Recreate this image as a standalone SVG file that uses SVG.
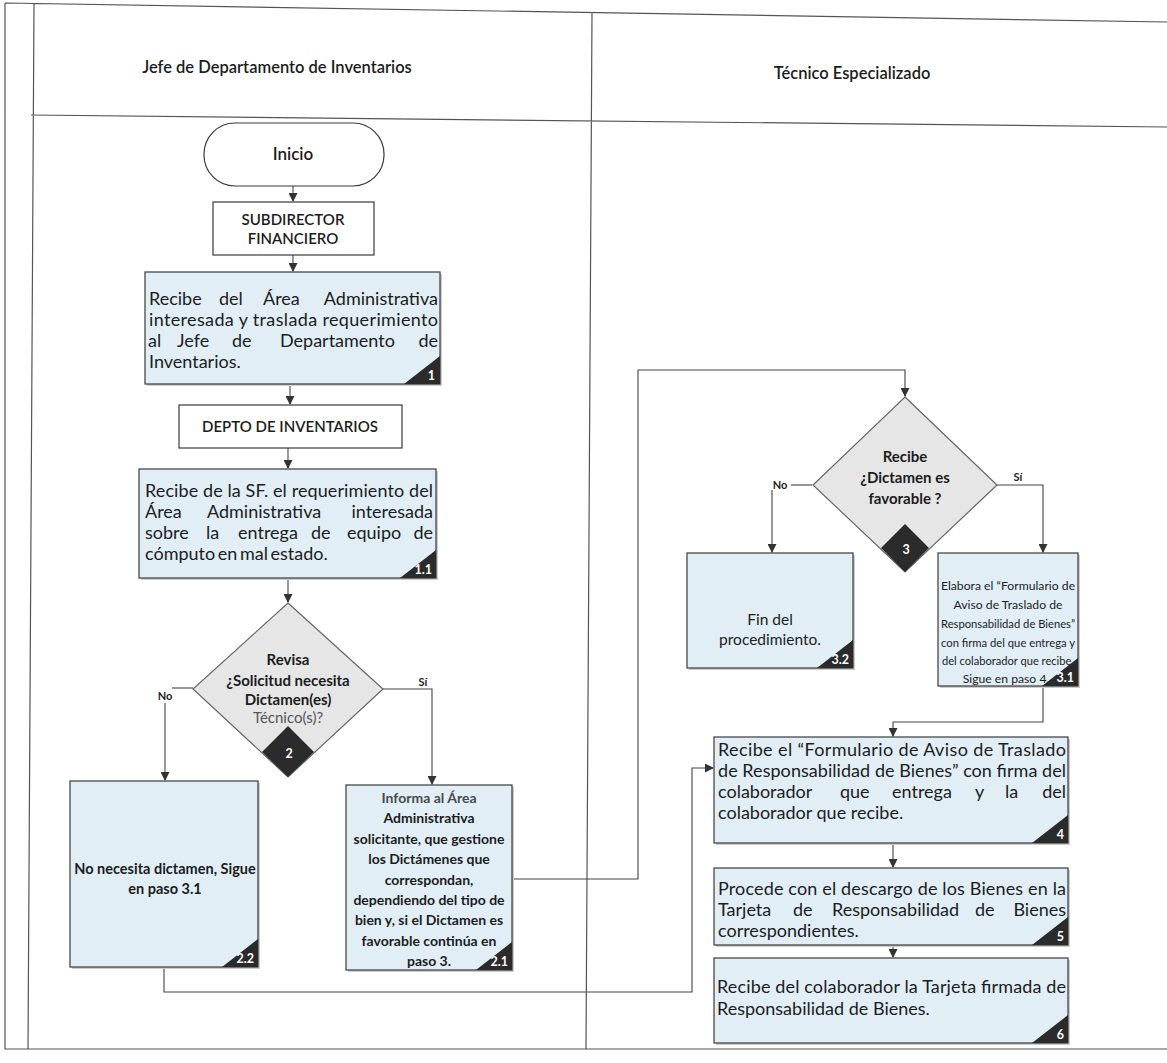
<svg xmlns="http://www.w3.org/2000/svg" width="1167" height="1063" viewBox="0 0 1167 1063">
  <style>
    .frame { fill: none; stroke: #555; stroke-width: 1.2; }
    .box { fill: #e1eef6; stroke: #3a3a3a; stroke-width: 1.2; }
    .plain { fill: #ffffff; stroke: #3a3a3a; stroke-width: 1.2; }
    .shadow { fill: #cdcdcd; }
    .dia { fill: #e6e6e6; stroke: #666; stroke-width: 1.2; }
    .badge { fill: #2b2b2b; }
    .num { font-family: Lato, "Noto Sans", sans-serif; font-size: 12.5px; font-weight: 700; fill: #ffffff; text-anchor: end; }
    .conn { fill: none; stroke: #444; stroke-width: 1.1; }
    .t { font-family: Lato, "Noto Sans", sans-serif; font-size: 18px; fill: #1c1c1c; }
    .tc { font-family: Lato, "Noto Sans", sans-serif; fill: #1c1c1c; text-anchor: middle; }
    .hdr { font-family: Lato, "Noto Sans", sans-serif; font-size: 16.5px; font-weight: 600; fill: #1c1c1c; text-anchor: middle; }
    .cap { font-size: 15px; font-weight: 600; }
    .bold { font-weight: 700; }
    .lbl { font-family: Lato, "Noto Sans", sans-serif; font-size: 11px; font-weight: 700; fill: #222; text-anchor: middle; }
    .e { text-anchor: end; }
  </style>
  <defs>
    <marker id="arr" markerUnits="userSpaceOnUse" markerWidth="9" markerHeight="9" refX="8" refY="4.5" orient="auto">
      <path d="M0,0 L9,4.5 L0,9 z" fill="#333"/>
    </marker>
  </defs>

  <!-- swimlane frame (the sheet sits slightly skewed) -->
  <g id="lanes">
    <path class="frame" d="M5,3 L1167,22 M5,3 V1049 H1167 M34,3 L28,1049 M31,115 L1167,127 M592,13 L586,1049"/>
    <text class="hdr" x="277" y="73">Jefe de Departamento de Inventarios</text>
    <text class="hdr" x="852" y="79">Técnico Especializado</text>
  </g>

  <!-- connectors -->
  <g id="connectors">
    <path class="conn" d="M293,186 V201" marker-end="url(#arr)"/>
    <path class="conn" d="M293,255 V271" marker-end="url(#arr)"/>
    <path class="conn" d="M290,384 V404" marker-end="url(#arr)"/>
    <path class="conn" d="M288,448 V468" marker-end="url(#arr)"/>
    <path class="conn" d="M288,578 V602" marker-end="url(#arr)"/>
    <path class="conn" d="M193,688 H172"/>
    <path class="conn" d="M165,703 V780" marker-end="url(#arr)"/>
    <path class="conn" d="M383,689 H432 V784" marker-end="url(#arr)"/>
    <path class="conn" d="M512,879 H638 V370 H905 V396" marker-end="url(#arr)"/>
    <path class="conn" d="M164,967 V992 H692 V768 H713" marker-end="url(#arr)"/>
    <path class="conn" d="M812,485 H791"/>
    <path class="conn" d="M772,490 V552" marker-end="url(#arr)"/>
    <path class="conn" d="M997,485 H1043 V552" marker-end="url(#arr)"/>
    <path class="conn" d="M1043,686 V722 H893 V736" marker-end="url(#arr)"/>
    <path class="conn" d="M893,843 V867" marker-end="url(#arr)"/>
    <path class="conn" d="M893,945 V957" marker-end="url(#arr)"/>
    <text class="lbl" x="165" y="700">No</text>
    <text class="lbl" x="423" y="686">Sí</text>
    <text class="lbl" x="780" y="489">No</text>
    <text class="lbl" x="1018" y="481">Sí</text>
  </g>

  <g id="inicio">
    <rect class="plain" x="204" y="123" width="180" height="63" rx="31"/>
    <text class="tc cap" x="293" y="160" style="font-size:17px">Inicio</text>
  </g>

  <g id="subdirector">
    <rect class="plain" x="213" y="202" width="161" height="53"/>
    <text class="tc cap" x="293" y="225">SUBDIRECTOR</text>
    <text class="tc cap" x="293" y="244">FINANCIERO</text>
  </g>

  <g id="paso-1">
    <rect class="shadow" x="147" y="274" width="295" height="112"/>
    <rect class="box" x="145" y="272" width="295" height="112"/>
    <text class="t" y="305"><tspan x="149">Recibe</tspan><tspan x="219">del</tspan><tspan x="263">Área</tspan><tspan x="438" class="e">Administrativa</tspan></text>
    <text class="t" y="326" x="149" textLength="289" lengthAdjust="spacing">interesada y traslada requerimiento</text>
    <text class="t" y="347"><tspan x="148">al</tspan><tspan x="177">Jefe</tspan><tspan x="232">de</tspan><tspan x="280">Departamento</tspan><tspan x="438" class="e">de</tspan></text>
    <text class="t" y="368" x="149">Inventarios.</text>
    <path class="badge" d="M440,356 V384 H404 Z"/>
    <text class="num" x="435" y="380">1</text>
  </g>

  <g id="depto">
    <rect class="plain" x="179" y="405" width="223" height="43"/>
    <text class="tc cap" x="290" y="432">DEPTO DE INVENTARIOS</text>
  </g>

  <g id="paso-1-1">
    <rect class="shadow" x="141" y="471" width="297" height="109"/>
    <rect class="box" x="139" y="469" width="297" height="109"/>
    <text class="t" y="497" x="145" textLength="288" lengthAdjust="spacing">Recibe de la SF. el requerimiento del</text>
    <text class="t" y="518"><tspan x="145">Área</tspan><tspan x="207">Administrativa</tspan><tspan x="433" class="e">interesada</tspan></text>
    <text class="t" y="539"><tspan x="145">sobre</tspan><tspan x="206">la</tspan><tspan x="238">entrega</tspan><tspan x="311">de</tspan><tspan x="347">equipo</tspan><tspan x="433" class="e">de</tspan></text>
    <text class="t" y="560" x="145" style="word-spacing:-2px">cómputo en mal estado.</text>
    <path class="badge" d="M436,550 V578 H400 Z"/>
    <text class="num" x="432" y="574">1.1</text>
  </g>

  <g id="decision-2">
    <path class="dia" d="M288,603 L383,689 L288,777 L193,689 Z"/>
    <path class="badge" d="M288,726 L314,752 L288,777 L262,752 Z"/>
    <text class="tc bold" x="288" y="665" style="font-size:15px">Revisa</text>
    <text class="tc bold" x="288" y="686" style="font-size:15px">¿Solicitud necesita</text>
    <text class="tc bold" x="288" y="705" style="font-size:15px">Dictamen(es)</text>
    <text class="tc" x="288" y="723" style="font-size:15px;fill:#555">Técnico(s)?</text>
    <text class="num" x="289" y="758" style="text-anchor:middle">2</text>
  </g>

  <g id="paso-2-2">
    <rect class="shadow" x="72" y="783" width="188" height="186"/>
    <rect class="box" x="70" y="781" width="188" height="186"/>
    <text class="tc bold" x="165" y="874" style="font-size:14.5px">No necesita dictamen, Sigue</text>
    <text class="tc bold" x="165" y="894" style="font-size:14.5px">en paso 3.1</text>
    <path class="badge" d="M258,939 V967 H222 Z"/>
    <text class="num" x="254" y="963">2.2</text>
  </g>

  <g id="paso-2-1">
    <rect class="shadow" x="348" y="787" width="166" height="185"/>
    <rect class="box" x="346" y="785" width="166" height="185"/>
    <g class="tc bold" style="font-size:14px">
      <text x="429" y="803" style="fill:#4a4a4a">Informa al Área</text>
      <text x="429" y="823">Administrativa</text>
      <text x="429" y="844">solicitante, que gestione</text>
      <text x="429" y="864">los Dictámenes que</text>
      <text x="429" y="885">correspondan,</text>
      <text x="429" y="905">dependiendo del tipo de</text>
      <text x="429" y="925">bien y, si el Dictamen es</text>
      <text x="429" y="946">favorable continúa en</text>
      <text x="429" y="966">paso 3.</text>
    </g>
    <path class="badge" d="M512,942 V970 H476 Z"/>
    <text class="num" x="508" y="966">2.1</text>
  </g>

  <g id="decision-3">
    <path class="dia" d="M905,397 L997,485 L905,572 L813,485 Z"/>
    <path class="badge" d="M905,524 L929,548 L905,572 L881,548 Z"/>
    <text class="tc bold" x="905" y="462" style="font-size:15px">Recibe</text>
    <text class="tc bold" x="905" y="483" style="font-size:15px">¿Dictamen es</text>
    <text class="tc bold" x="905" y="504" style="font-size:15px">favorable ?</text>
    <text class="num" x="906" y="554" style="text-anchor:middle">3</text>
  </g>

  <g id="paso-3-2">
    <rect class="shadow" x="689" y="555" width="166" height="115"/>
    <rect class="box" x="687" y="553" width="166" height="115"/>
    <text class="tc" x="770" y="625" style="font-size:15.5px">Fin del</text>
    <text class="tc" x="770" y="645" style="font-size:15.5px">procedimiento.</text>
    <path class="badge" d="M853,640 V668 H817 Z"/>
    <text class="num" x="849" y="664">3.2</text>
  </g>

  <g id="paso-3-1">
    <rect class="shadow" x="940" y="555" width="140" height="133"/>
    <rect class="box" x="938" y="553" width="140" height="133"/>
    <g class="tc" style="font-size:12.2px">
      <text x="1008" y="590">Elabora el “Formulario de</text>
      <text x="1008" y="609">Aviso de Traslado de</text>
      <text x="1008" y="628" textLength="134" lengthAdjust="spacingAndGlyphs">Responsabilidad de Bienes”</text>
      <text x="1008" y="647" textLength="134" lengthAdjust="spacingAndGlyphs">con firma del que entrega y</text>
      <text x="1008" y="665" textLength="132" lengthAdjust="spacingAndGlyphs">del colaborador que recibe.</text>
      <text x="1006" y="683">Sigue en paso 4.</text>
    </g>
    <path class="badge" d="M1078,658 V686 H1042 Z"/>
    <text class="num" x="1074" y="682">3.1</text>
  </g>

  <g id="paso-4">
    <rect class="shadow" x="716" y="739" width="354" height="106"/>
    <rect class="box" x="714" y="737" width="354" height="106"/>
    <text class="t" x="718" y="756" textLength="348" lengthAdjust="spacing">Recibe el “Formulario de Aviso de Traslado</text>
    <text class="t" x="718" y="777" textLength="348" lengthAdjust="spacing">de Responsabilidad de Bienes” con firma del</text>
    <text class="t" y="798"><tspan x="718">colaborador</tspan><tspan x="840">que</tspan><tspan x="892">entrega</tspan><tspan x="975">y</tspan><tspan x="1005">la</tspan><tspan x="1066" class="e">del</tspan></text>
    <text class="t" x="718" y="819">colaborador que recibe.</text>
    <path class="badge" d="M1068,815 V843 H1032 Z"/>
    <text class="num" x="1064" y="839">4</text>
  </g>

  <g id="paso-5">
    <rect class="shadow" x="716" y="870" width="354" height="77"/>
    <rect class="box" x="714" y="868" width="354" height="77"/>
    <text class="t" x="718" y="895" textLength="348" lengthAdjust="spacing">Procede con el descargo de los Bienes en la</text>
    <text class="t" y="916"><tspan x="718">Tarjeta</tspan><tspan x="793">de</tspan><tspan x="832">Responsabilidad</tspan><tspan x="975">de</tspan><tspan x="1066" class="e">Bienes</tspan></text>
    <text class="t" x="718" y="937">correspondientes.</text>
    <path class="badge" d="M1068,917 V945 H1032 Z"/>
    <text class="num" x="1064" y="941">5</text>
  </g>

  <g id="paso-6">
    <rect class="shadow" x="716" y="960" width="354" height="85"/>
    <rect class="box" x="714" y="958" width="354" height="85"/>
    <text class="t" x="717" y="993" textLength="349" lengthAdjust="spacing">Recibe del colaborador la Tarjeta firmada de</text>
    <text class="t" x="717" y="1015">Responsabilidad de Bienes.</text>
    <path class="badge" d="M1068,1015 V1043 H1032 Z"/>
    <text class="num" x="1064" y="1039">6</text>
  </g>
</svg>
